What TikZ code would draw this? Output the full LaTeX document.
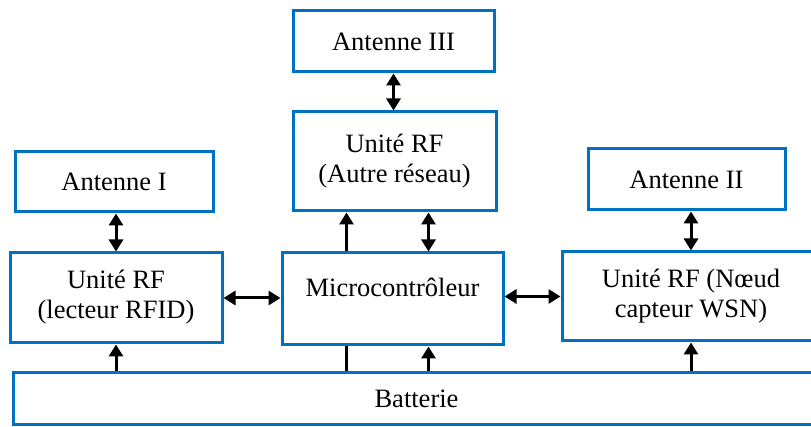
\documentclass[tikz,border=0pt]{standalone}
\usepackage{fontspec}
\newfontfamily\labelfont{Liberation Serif}
\usetikzlibrary{arrows.meta}
\definecolor{frameblue}{RGB}{0,112,192}
\begin{document}
\begin{tikzpicture}[x=1pt,y=-1pt,
  box/.style={draw=frameblue, line width=3pt, fill=white, inner sep=0pt,
              align=center, font=\labelfont\fontsize{26.5}{30}\selectfont},
  link/.style={line width=3pt, black},
  tip/.tip={Triangle[length=12pt,width=14pt]},
  dbl/.style={link, tip-tip},
  one/.style={link, -tip}]
\clip (0,0) rectangle (811,427);

% blocks
\node[box, minimum width=201pt, minimum height=61pt] (ant3) at (393.5,41.5) {Antenne III};
\node[box, minimum width=203pt, minimum height=99pt] (rfo) at (394.5,161.5) {Unité RF\\(Autre réseau)};
\node[box, minimum width=198pt, minimum height=60pt] (ant1) at (114,182) {Antenne I};
\node[box, minimum width=212pt, minimum height=90pt, text depth=8pt] (rfl) at (116,298) {Unité RF\\(lecteur RFID)};
\node[box, minimum width=221pt, minimum height=92pt, text depth=24pt] (micro) at (392.5,299) {Microcontrôleur};
\node[box, minimum width=197pt, minimum height=61pt] (ant2) at (686.5,179.5) {Antenne II};
\node[box, minimum width=258pt, minimum height=89pt] (rfw) at (691,296.5) {Unité RF (Nœud\\capteur WSN)};
\node[box, minimum width=807pt, minimum height=51pt] (bat) at (416.5,398.5) {Batterie};

% antenna links
\draw[dbl] (ant3.south) -- (ant3.south |- rfo.north);
\draw[dbl] (rfl.north |- ant1.south) -- (rfl.north);
\draw[dbl] (rfw.north |- ant2.south) -- (rfw.north);

% links to the microcontroller
\draw[dbl] (rfl.east) -- (rfl.east -| micro.west);
\draw[dbl] (rfw.west -| micro.east) -- (rfw.west);
\coordinate (mA) at ([xshift=66pt]micro.north west);
\coordinate (mB) at ([xshift=148pt]micro.north west);
\coordinate (mC) at ([xshift=66pt]micro.south west);
\coordinate (mD) at ([xshift=148pt]micro.south west);
\draw[one] (mA) -- (mA |- rfo.south);
\draw[dbl] (mB) -- (mB |- rfo.south);

% power supply
\draw[link] (mC) -- (mC |- bat.north);
\draw[one] (mD |- bat.north) -- (mD);
\draw[one] (rfl.south |- bat.north) -- (rfl.south);
\draw[one] (rfw.south |- bat.north) -- (rfw.south);
\end{tikzpicture}
\end{document}
